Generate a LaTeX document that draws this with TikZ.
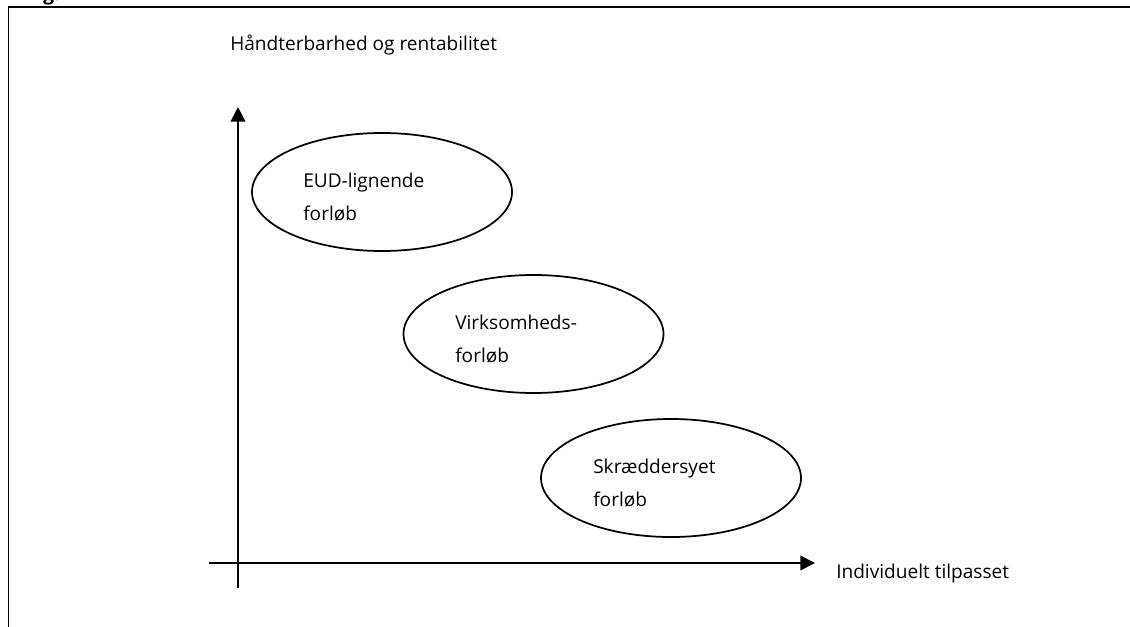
\documentclass[tikz,border=0pt]{standalone}
\usepackage{fontspec}
\setmainfont{Open Sans}
\usepackage{tikz}
\usetikzlibrary{arrows.meta,shapes.geometric,positioning}

\begin{document}
\begin{tikzpicture}[x=0.75pt,y=-0.75pt,
    axis/.style={line width=1.3pt,-{Triangle[length=11pt,width=11pt]}},
    blob/.style={draw,ellipse,line width=1.3pt,minimum width=195pt,minimum height=88.5pt,inner sep=0pt},
    lbl/.style={inner sep=0pt,font=\fontsize{14.3}{25}\selectfont,align=left}]
      \useasboundingbox (0,0) rectangle (1130,627);
      % Frame
      \draw[line width=1pt] (8.5,640) -- (8.5,7) -- (1140,7);
      \node[anchor=base west,inner sep=0pt,font=\fontsize{14.3}{17}\selectfont\bfseries] (fig) at (43,1) {g.};
      % Axes
      \coordinate (ybot) at (238,588);
      \coordinate (ytop) at (238,107);
      \coordinate (xleft) at (209,563);
      \coordinate (xright) at (815,563);
      \draw[axis] (ybot) -- (ytop);
      \draw[axis] (xleft) -- (xright);
      \node[lbl,anchor=base west] (ylabel) at (230,51) {Håndterbarhed og rentabilitet};
      \node[lbl,anchor=base west] (xlabel) at (836,578) {Individuelt tilpasset};
      % First ellipse
      \node[blob] (eud) at (382,192) {};
      \node[lbl,anchor=north west] (eudtext) at (303,172.5) {EUD-lignende\\forløb};
      % Second ellipse
      \node[blob] (virk) at (533.5,334) {};
      \node[lbl,anchor=north west] (virktext) at (455,314.5) {Virksomheds-\\forløb};
      % Third ellipse
      \node[blob] (skr) at (671,478) {};
      \node[lbl,anchor=north west] (skrtext) at (593,458.5) {Skræddersyet\\forløb};
\end{tikzpicture}
\end{document}
